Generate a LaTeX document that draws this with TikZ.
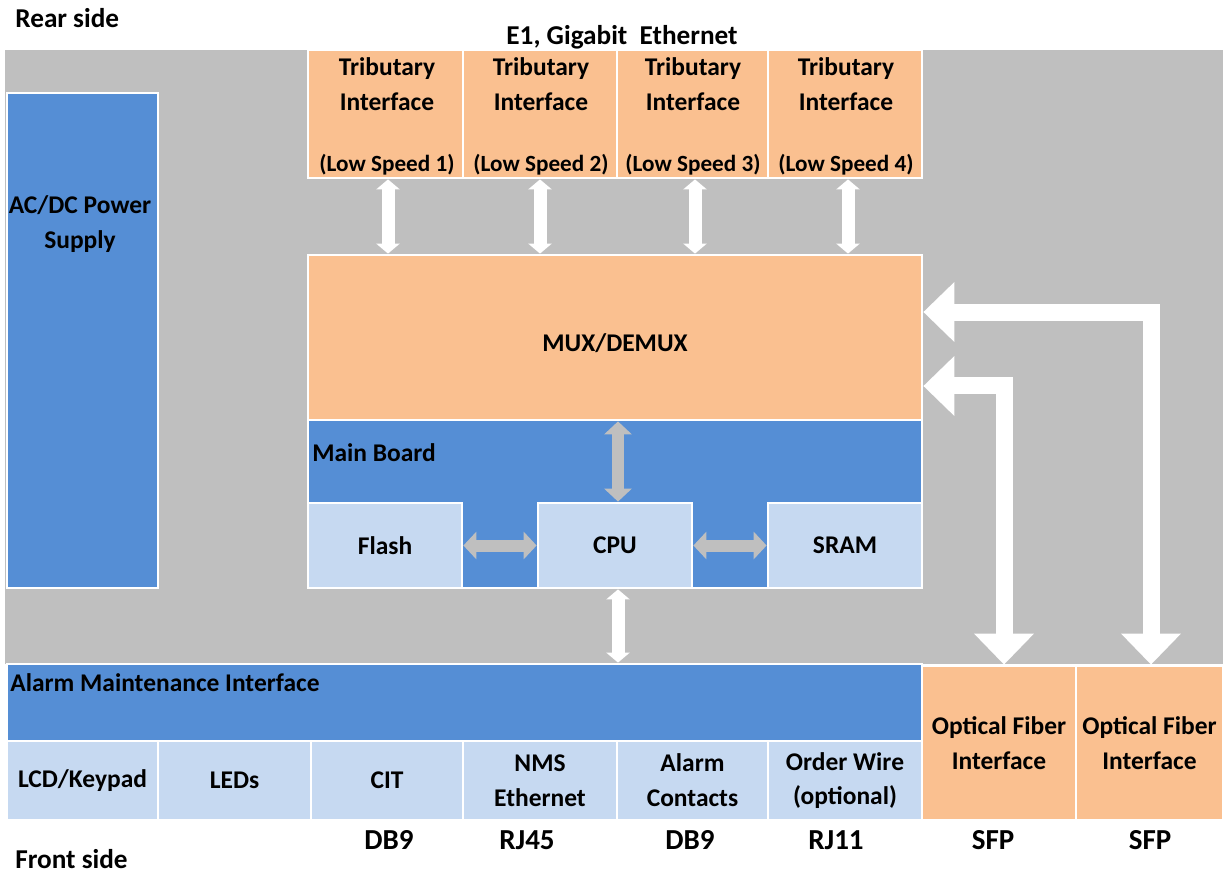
\documentclass[tikz,border=0pt]{standalone}
\usepackage{fontspec}
\setmainfont{Carlito}
\usetikzlibrary{arrows.meta}
\definecolor{bggray}{HTML}{BFBFBF}
\definecolor{tribfill}{HTML}{FAC090}
\definecolor{boardblue}{HTML}{558ED5}
\definecolor{partblue}{HTML}{C6D9F1}
\newcommand{\lowspeed}[1]{{\fontsize{13.2}{19.8}\selectfont(Low Speed #1)}}
\begin{document}
\begin{tikzpicture}[x=0.02cm, y=-0.02cm,
    every node/.style={font=\fontsize{14.5}{19.8}\selectfont\bfseries, align=center, inner sep=0pt},
    blk/.style={draw=white, line width=1.6pt},
    obox/.style={blk, fill=tribfill},
    bbox/.style={blk, fill=boardblue},
    pbox/.style={blk, fill=partblue},
    plug/.style={font=\fontsize{16.5}{18}\selectfont\bfseries},
    warrow/.style={draw=white, line width=0.26cm, {Triangle[width=0.46cm,length=0.2cm]}-{Triangle[width=0.46cm,length=0.2cm]}},
    garrow/.style={draw=bggray, line width=0.24cm, {Triangle[width=0.54cm,length=0.26cm]}-{Triangle[width=0.54cm,length=0.26cm]}},
    bigarrow/.style={draw=white, line width=0.34cm, {Triangle[width=1.16cm,length=0.62cm]}-{Triangle[width=1.16cm,length=0.62cm]}}]
\useasboundingbox (0,0) rectangle (1223,875);
\fill[bggray] (5,50) rectangle (1223,664);

\node (rear) [anchor=west, font=\fontsize{15.5}{18}\selectfont\bfseries] at (15,18) {Rear side};
\node (front) [anchor=west, font=\fontsize{15.5}{18}\selectfont\bfseries] at (15,859) {Front side};
\node (e1) [font=\fontsize{15.5}{18}\selectfont\bfseries] at (622,37) {E1, Gigabit~~Ethernet};

\node (psu) [bbox, minimum width=3.02cm, minimum height=9.9cm] at (82.5,340.5) {};
\node (psutxt) at (80,224) {AC/DC Power\\Supply};

\node (t1) [obox, minimum width=3.1cm, minimum height=2.56cm] at (385.5,114) {};
\node (t2) [obox, minimum width=3.08cm, minimum height=2.56cm] at (540,114) {};
\node (t3) [obox, minimum width=3.02cm, minimum height=2.56cm] at (692.5,114) {};
\node (t4) [obox, minimum width=3.08cm, minimum height=2.56cm] at (845,114) {};
\node (t1txt) at (387,116.5) {Tributary\\Interface\\[0.54cm]\lowspeed{1}};
\node (t2txt) at (541,116.5) {Tributary\\Interface\\[0.54cm]\lowspeed{2}};
\node (t3txt) at (693,116.5) {Tributary\\Interface\\[0.54cm]\lowspeed{3}};
\node (t4txt) at (846,116.5) {Tributary\\Interface\\[0.54cm]\lowspeed{4}};

\node (mux) [obox, minimum width=12.28cm, minimum height=3.3cm] at (615,337.5) {};
\node (muxtxt) at (615,343) {MUX/DEMUX};
\node (board) [bbox, minimum width=12.28cm, minimum height=3.36cm] at (615,504) {};
\node (boardtxt) [anchor=west] at (312,453) {Main Board};
\node (flash) [pbox, minimum width=3.08cm, minimum height=1.7cm] at (385,545.5) {Flash};
\node (cpu) [pbox, minimum width=3.08cm, minimum height=1.7cm] at (615,545.5) {CPU};
\node (sram) [pbox, minimum width=3.08cm, minimum height=1.7cm] at (845,545.5) {SRAM};

\node (alarm) [bbox, minimum width=18.3cm, minimum height=1.54cm] at (464.5,702.5) {};
\node (alarmtxt) [anchor=west] at (10,683) {Alarm Maintenance Interface};
\node (p1) [pbox, minimum width=3.02cm, minimum height=1.58cm] at (82.5,780.5) {LCD/Keypad};
\node (p2) [pbox, minimum width=3.06cm, minimum height=1.58cm] at (234.5,780.5) {LEDs};
\node (p3) [pbox, minimum width=3.04cm, minimum height=1.58cm] at (387,780.5) {CIT};
\node (p4) [pbox, minimum width=3.08cm, minimum height=1.58cm] at (540,780.5) {NMS\\Ethernet};
\node (p5) [pbox, minimum width=3.02cm, minimum height=1.58cm] at (692.5,780.5) {Alarm\\Contacts};
\node (p6) [pbox, minimum width=3.08cm, minimum height=1.58cm] at (845,780.5) {Order Wire\\(optional)};

\node (o1) [obox, minimum width=3.08cm, minimum height=3.08cm] at (999,743) {Optical Fiber\\Interface};
\node (o2) [obox, minimum width=2.94cm, minimum height=3.08cm] at (1149.5,743) {Optical Fiber\\Interface};

\node (c3) [plug] at (389,840) {DB9};
\node (c4) [plug] at (527,840) {RJ45};
\node (c5) [plug] at (690,840) {DB9};
\node (c6) [plug] at (836,840) {RJ11};
\node (s1) [plug] at (993,840) {SFP};
\node (s2) [plug] at (1150,840) {SFP};

\draw[warrow] ([xshift=0.05cm]t1.south) -- ([xshift=0.05cm]t1.south |- mux.north);
\draw[warrow] (t2.south) -- (t2.south |- mux.north);
\draw[warrow] ([xshift=0.05cm]t3.south) -- ([xshift=0.05cm]t3.south |- mux.north);
\draw[warrow] ([xshift=0.06cm]t4.south) -- ([xshift=0.06cm]t4.south |- mux.north);

\draw[garrow] (flash.east) -- (cpu.west);
\draw[garrow] (cpu.east) -- (sram.west);
\draw[garrow] ([xshift=0.06cm]cpu.north) -- ([xshift=0.06cm]cpu.north |- mux.south);
\draw[warrow] ([xshift=0.06cm]cpu.south) -- ([xshift=0.06cm]cpu.south |- alarm.north);

\draw[bigarrow] ([yshift=0.51cm]mux.east) -| ([xshift=0.03cm]o2.north);
\draw[bigarrow] ([yshift=-0.97cm]mux.east) -| ([xshift=0.1cm]o1.north);
\end{tikzpicture}
\end{document}
